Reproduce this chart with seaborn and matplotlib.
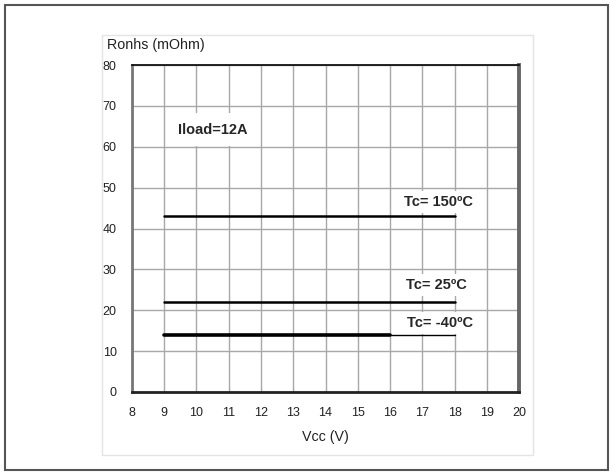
import pandas as pd
import seaborn as sns
import matplotlib.pyplot as plt
from matplotlib.patches import Rectangle

# data
vcc = [9, 18]
ron_150 = [43, 43]
ron_25 = [22, 22]
vcc_m40 = [9, 16]
ron_m40 = [14, 14]
vcc_m40_tail = [16, 18]
ron_m40_tail = [14, 14]

x_ticks = list(range(8, 21))
y_ticks = list(range(0, 81, 10))

sns.set_style('white')
plt.rcParams['font.family'] = ['Liberation Sans', 'DejaVu Sans']

fig = plt.figure(figsize=(6.13, 4.76), dpi=100)
ax = fig.add_axes([0.2153, 0.1765, 0.6314, 0.6869])

# outer frame + faint inner frame
fig.patches.append(Rectangle((5 / 613, 1 - 470 / 476), 603 / 613, 465 / 476,
                             transform=fig.transFigure, fill=False,
                             edgecolor='#555555', lw=1.5))
fig.patches.append(Rectangle((102 / 613, 1 - 455 / 476), 431 / 613, 420 / 476,
                             transform=fig.transFigure, fill=False,
                             edgecolor='#e4e4e4', lw=1))

sns.lineplot(x=vcc, y=ron_150, ax=ax, color='black', lw=1.8)
sns.lineplot(x=vcc, y=ron_25, ax=ax, color='black', lw=1.8)
sns.lineplot(x=vcc_m40, y=ron_m40, ax=ax, color='black', lw=2.6)
sns.lineplot(x=vcc_m40_tail, y=ron_m40_tail, ax=ax, color='black', lw=1.0)

ax.set_xlim(8, 20)
ax.set_ylim(0, 80)
ax.set_xticks(x_ticks)
ax.set_yticks(y_ticks)
ax.grid(True, color='#a8a8a8', lw=1.0)
ax.set_axisbelow(True)
ax.tick_params(axis='both', length=0, labelsize=9, colors='#222222')
ax.tick_params(axis='x', pad=11)
ax.tick_params(axis='y', pad=11)

for side, c, w in [('left', '#777777', 2.0), ('bottom', '#222222', 2.0),
                   ('top', '#111111', 1.3), ('right', '#666666', 2.8)]:
    ax.spines[side].set_visible(True)
    ax.spines[side].set_color(c)
    ax.spines[side].set_linewidth(w)

box = dict(facecolor='white', edgecolor='none', pad=3)
ax.text(10.5, 64.2, 'Iload=12A', ha='center', va='center', fontsize=10.5,
        fontweight='bold', bbox=dict(facecolor='white', edgecolor='none', pad=7))
ax.text(17.5, 46.5, 'Tc= 150ºC', ha='center', va='center', fontsize=10.5,
        fontweight='bold', bbox=box)
ax.text(17.45, 26.2, 'Tc= 25ºC', ha='center', va='center', fontsize=10.5,
        fontweight='bold', bbox=box)
ax.text(17.55, 16.9, 'Tc= -40ºC', ha='center', va='center', fontsize=10.5,
        fontweight='bold', bbox=box)

fig.text(107 / 613, 1 - 45 / 476, 'Ronhs (mOhm)', ha='left', va='center',
         fontsize=10.3, color='#222222')
ax.set_xlabel('Vcc (V)', fontsize=10.3, color='#222222', labelpad=8)
ax.set_ylabel('')

fig.savefig('out.png', dpi=100)
